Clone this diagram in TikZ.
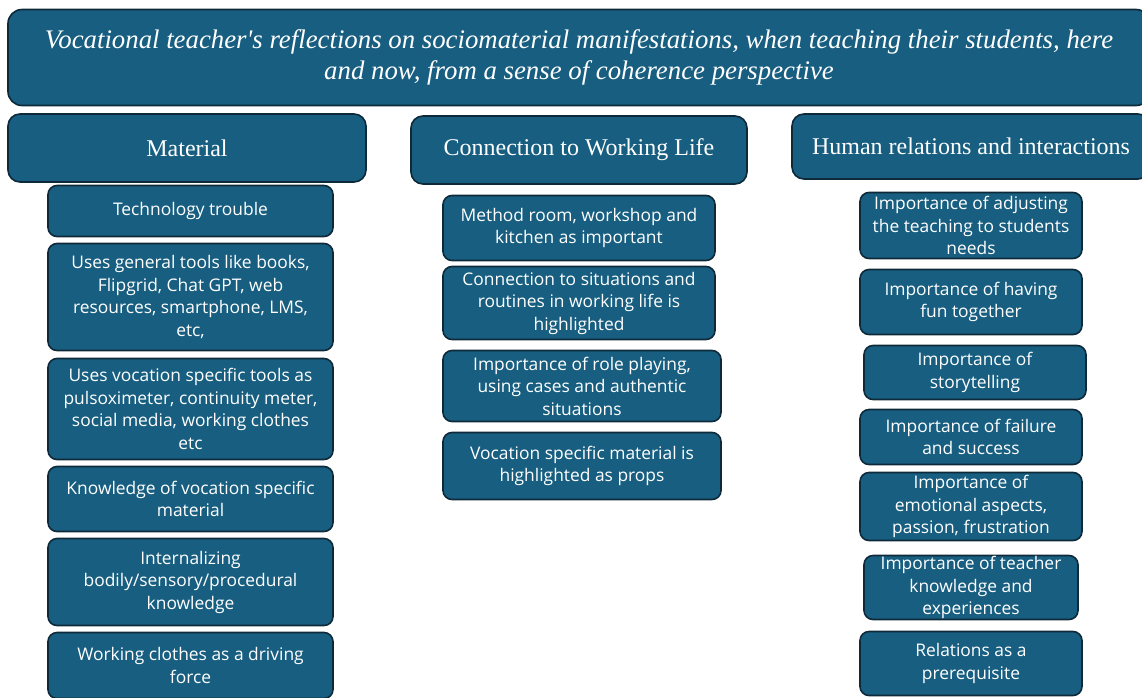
\documentclass[tikz,border=0pt]{standalone}
\usepackage{fontspec}
\setmainfont{Liberation Serif}
\newfontfamily\boxfont{Open Sans}
\definecolor{boxfill}{HTML}{175E80}
\definecolor{boxline}{HTML}{0E2A3A}
\begin{document}
\begin{tikzpicture}[x=1pt,y=-1pt,
  base/.style={draw=boxline, line width=1.6pt, fill=boxfill, text=white,
    align=center, inner sep=0pt},
  titlebox/.style={base, rounded corners=14pt,
    font=\fontsize{26.8}{31}\selectfont\itshape},
  headbox/.style={base, rounded corners=12pt,
    font=\fontsize{24}{28}\selectfont},
  itembox/.style={base, rounded corners=9pt,
    font=\boxfont\fontsize{17.4}{22.5}\selectfont},
]
\useasboundingbox (0,0) rectangle (1142,697);

% title banner (runs past the right edge)
\node[titlebox, minimum width=1142pt, minimum height=96pt] (title) at (579,57.5)
  {Vocational teacher\textquotesingle s reflections on sociomaterial manifestations, when teaching their students, here\\
   and now, from a sense of coherence perspective};

% column headings
\node[headbox, minimum width=358pt, minimum height=68pt] (hmat) at (187,148) {Material};
\node[headbox, minimum width=336pt, minimum height=68pt] (hcon) at (579,150) {Connection to Working Life};
\node[headbox, minimum width=358pt, minimum height=65pt] (hhum) at (971,146.5) {Human relations and interactions};

% Material column
\node[itembox, minimum width=285pt, minimum height=51pt] (m1) at (190.5,211) {Technology trouble};
\node[itembox, minimum width=285pt, minimum height=107pt] (m2) at (190.5,297)
  {Uses general tools like books,\\ Flipgrid, Chat GPT, web\\ resources, smartphone, LMS,\\ etc,};
\node[itembox, minimum width=285pt, minimum height=101pt] (m3) at (190.5,409)
  {Uses vocation specific tools as\\ pulsoximeter, continuity meter,\\ social media, working clothes\\ etc};
\node[itembox, minimum width=285pt, minimum height=65pt] (m4) at (190.5,499)
  {Knowledge of vocation specific\\ material};
\node[itembox, minimum width=285pt, minimum height=87pt] (m5) at (190.5,582)
  {Internalizing\\ bodily/sensory/procedural\\ knowledge};
\node[itembox, minimum width=285pt, minimum height=66pt] (m6) at (190.5,665.5)
  {Working clothes as a driving\\ force};

% Connection to Working Life column
\node[itembox, minimum width=272pt, minimum height=65pt] (c1) at (579,228)
  {Method room, workshop and\\ kitchen as important};
\node[itembox, minimum width=272pt, minimum height=73pt] (c2) at (579,303)
  {Connection to situations and\\ routines in working life is\\ highlighted};
\node[itembox, minimum width=278pt, minimum height=71pt] (c3) at (582,386)
  {Importance of role playing,\\ using cases and authentic\\ situations};
\node[itembox, minimum width=278pt, minimum height=67pt] (c4) at (582,466)
  {Vocation specific material is\\ highlighted as props};

% Human relations column
\node[itembox, minimum width=222pt, minimum height=66pt] (r1) at (971,225.5)
  {Importance of adjusting\\ the teaching to students\\ needs};
\node[itembox, minimum width=222pt, minimum height=65pt] (r2) at (971,302)
  {Importance of having\\ fun together};
\node[itembox, minimum width=222pt, minimum height=54pt] (r3) at (975,372.5)
  {Importance of\\ storytelling};
\node[itembox, minimum width=222pt, minimum height=55pt] (r4) at (971,437)
  {Importance of failure\\ and success};
\node[itembox, minimum width=222pt, minimum height=68pt] (r5) at (971,506.5)
  {Importance of\\ emotional aspects,\\ passion, frustration};
\node[itembox, minimum width=214pt, minimum height=64pt] (r6) at (971,587.5)
  {Importance of teacher\\ knowledge and\\ experiences};
\node[itembox, minimum width=222pt, minimum height=64pt] (r7) at (971,663.5)
  {Relations as a\\ prerequisite};
\end{tikzpicture}
\end{document}
